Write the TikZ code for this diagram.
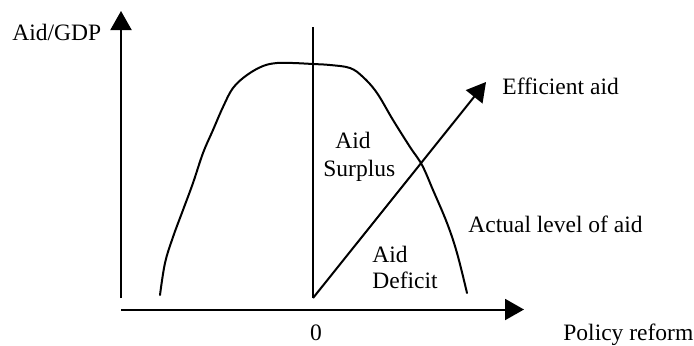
\documentclass[tikz,border=0pt]{standalone}
\usepackage{fontspec}
\setmainfont{Liberation Serif}
\usetikzlibrary{arrows.meta}
\begin{document}
\begin{tikzpicture}[x=0.5pt,y=-0.5pt,
  lbl/.style={anchor=base west,inner sep=0pt,font=\fontsize{11.75}{14}\selectfont},
  axis/.style={line width=1pt,-{Triangle[length=9.5pt,width=10.5pt]}},
  curve/.style={line width=1pt,line cap=round,line join=round}]
\useasboundingbox (0,0) rectangle (694,345);
% coordinates
\coordinate (yb) at (121,298);
\coordinate (yt) at (121,11);
\coordinate (xb) at (121,309.5);
\coordinate (xt) at (524,309.5);
\coordinate (O) at (313,298);
\coordinate (vt) at (313,27);
\coordinate (E) at (486,82);
% axes
\draw[axis] (yb) -- (yt);
\draw[axis] (xb) -- (xt);
% vertical line at 0
\draw[line width=0.8pt] (O) -- (vt);
% efficient aid
\draw[axis] (O) -- (E);
% actual level of aid curve
\draw[curve] plot[smooth,tension=0.6] coordinates {
 (160,295) (165,263) (173,237) (183,210) (193,183) (203,153) (213,130)
 (223,107) (233,88) (247,75) (263,66) (277,63) (293,63) (313,64) (330,65)
 (350,68) (363,77) (377,93) (393,120) (410,147) (422,165) (433,190)
 (447,223) (457,253) (467,293)};
% labels
\node[lbl] (ylab) at (12,40) {Aid/GDP};
\node[lbl] (elab) at (502,94) {Efficient aid};
\node[lbl] (s1) at (335,148) {Aid};
\node[lbl] (s2) at (323,176) {Surplus};
\node[lbl] (d1) at (372,262) {Aid};
\node[lbl] (d2) at (372,288) {Deficit};
\node[lbl] (alab) at (468,232) {Actual level of aid};
\node[lbl,anchor=base] (zero) at (316,340.5) {0};
\node[lbl] (xlab) at (563,340.5) {Policy reform};
\end{tikzpicture}
\end{document}
